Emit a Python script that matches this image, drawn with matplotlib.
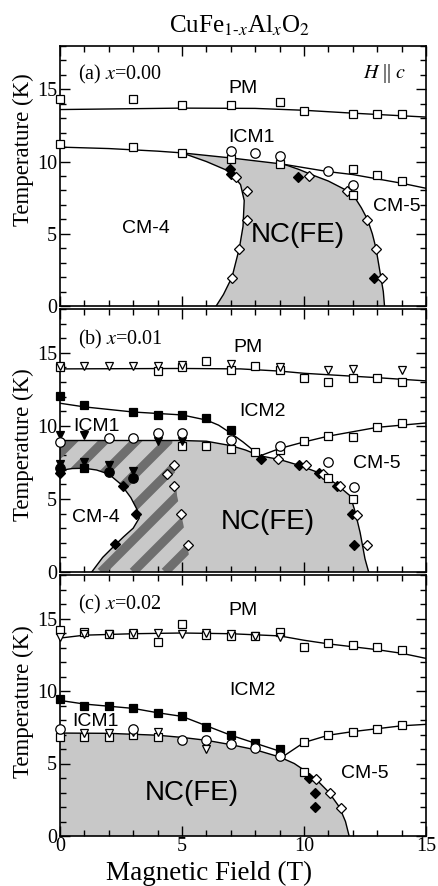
import numpy as np
import matplotlib
matplotlib.use("Agg")
import matplotlib.pyplot as plt
from matplotlib.ticker import MultipleLocator
from matplotlib.patches import Polygon

plt.rcParams['font.family'] = 'Liberation Serif'
plt.rcParams['mathtext.fontset'] = 'stix'

SANS = 'Liberation Sans'
GREY = '#c8c8c8'
DARK = '#6e6e6e'

# ---------------- panel (a) x=0.00 ----------------
a_pm_sq_x = [0, 3, 5, 7, 9, 10, 12, 13, 14]
a_pm_sq_T = [14.3, 14.3, 13.9, 13.9, 14.1, 13.5, 13.3, 13.3, 13.3]
a_lo_sq_x = [0, 3, 5, 7, 9, 12, 13, 14, 12]
a_lo_sq_T = [11.2, 11.0, 10.6, 10.2, 9.8, 9.5, 9.05, 8.65, 7.7]
a_circ_x = [7, 8, 9, 11, 12]
a_circ_T = [10.7, 10.6, 10.4, 9.35, 8.35]
a_fdia_x = [6.95, 7.0, 9.75, 12.85]
a_fdia_T = [9.45, 9.15, 8.95, 1.95]
a_odia_x = [7.2, 7.65, 7.65, 7.35, 7.05, 10.2, 11.75, 12.6, 12.95, 13.2]
a_odia_T = [8.95, 7.95, 5.95, 3.95, 1.95, 9.0, 7.95, 5.95, 3.95, 1.95]

a_pm_line_x = [0, 5, 8, 10, 12, 15]
a_pm_line_T = [13.6, 13.7, 13.68, 13.55, 13.35, 13.08]
a_icm_line_x = [0, 2, 4, 5, 7, 9, 9.2, 11, 12, 13, 14, 15]
a_icm_line_T = [11.0, 10.9, 10.72, 10.6, 10.25, 9.85, 9.8, 9.3, 9.1, 8.8, 8.5, 8.15]
a_ncl_x = [5.0, 6.0, 6.97, 7.4, 7.55, 7.5, 7.35, 7.05, 6.7, 6.4]
a_ncl_T = [10.6, 10.0, 9.3, 8.4, 7.3, 5.5, 4.0, 2.0, 0.8, 0.0]
a_ncr_x = [9.2, 9.8, 10.3, 11.0, 11.75, 12.05, 12.35, 12.6, 12.8, 12.95, 13.05, 13.15, 13.25, 13.3]
a_ncr_T = [9.8, 9.45, 9.1, 8.65, 8.0, 7.6, 6.8, 6.0, 5.0, 4.0, 3.0, 2.0, 1.0, 0.0]

# ---------------- panel (b) x=0.01 ----------------
b_tri_x = [0, 1, 2, 3, 4, 5, 7, 9, 11, 12, 14]
b_tri_T = [14.1, 14.1, 14.1, 14.1, 14.1, 14.15, 14.25, 14.0, 13.8, 13.9, 13.8]
b_pm_sq_x = [0, 4, 5, 6, 7, 8, 9, 10, 11, 12, 13, 14]
b_pm_sq_T = [14.0, 13.77, 14.05, 14.46, 13.84, 14.1, 13.84, 13.27, 13.03, 13.3, 13.3, 13.03]
b_fsq_x = [0, 1, 3, 4, 5, 6, 7, 1]
b_fsq_T = [12.03, 11.4, 10.95, 10.76, 10.76, 10.53, 9.72, 7.1]
b_ftri_x = [0, 1, 4, 5, 0, 1, 2, 3]
b_ftri_T = [9.4, 9.4, 9.0, 9.0, 7.4, 7.52, 7.29, 6.94]
b_fcirc_x = [0, 2, 3]
b_fcirc_T = [7.1, 6.83, 6.41]
b_circ_x = [0, 2, 3, 4, 5, 7, 9, 11, 12.05]
b_circ_T = [8.9, 9.14, 9.17, 9.49, 9.49, 9.03, 8.6, 7.5, 5.8]
b_lo_sq_x = [5, 6, 7, 8, 9, 10, 11, 12, 13, 14, 11, 12]
b_lo_sq_T = [8.6, 8.6, 8.4, 8.2, 8.35, 9.0, 9.3, 9.25, 9.95, 10.2, 6.45, 5.0]
b_fdia_x = [0, 2.57, 3.1, 2.25, 8.22, 9.8, 10.63, 11.34, 11.97, 12.06]
b_fdia_T = [6.75, 5.9, 3.95, 1.9, 7.75, 7.3, 6.75, 5.9, 3.95, 1.85]
b_odia_x = [4.37, 4.68, 4.67, 4.96, 5.26, 8.95, 10.1, 10.77, 11.48, 12.16, 12.6]
b_odia_T = [6.72, 7.29, 5.9, 3.94, 1.85, 7.75, 7.3, 6.7, 5.9, 3.9, 1.85]

b_pm_line_x = [0, 5, 7.4, 9, 10, 13, 15]
b_pm_line_T = [13.9, 13.93, 13.9, 13.75, 13.6, 13.3, 13.08]
b_icm2_line_x = [0, 1, 3, 5, 6, 6.5, 7, 7.5, 8.2]
b_icm2_line_T = [11.55, 11.3, 10.95, 10.75, 10.4, 10.05, 9.5, 8.9, 7.95]
b_cm5_line_x = [8.2, 9, 10, 11, 12, 13, 14, 15]
b_cm5_line_T = [7.95, 8.45, 8.9, 9.3, 9.6, 9.9, 10.05, 10.2]
b_nc_line_x = [0, 5, 6, 7, 7.6, 8.2, 9, 9.8, 10.6, 11.3, 11.9, 12.1, 12.3, 12.5, 12.65]
b_nc_line_T = [9.0, 9.0, 8.95, 8.65, 8.35, 7.95, 7.7, 7.3, 6.8, 6.05, 5.2, 4.1, 2.7, 0.9, 0.0]
b_cm4_line_x = [0, 0.5, 1, 1.5, 2, 2.5, 2.9, 3.15, 3.25, 3.0, 2.6, 2.2, 1.75, 1.3]
b_cm4_line_T = [6.95, 7.08, 7.1, 6.98, 6.7, 6.0, 5.1, 4.3, 3.7, 3.0, 2.4, 1.75, 1.0, 0.0]
b_hatch_edge_x = [4.6, 4.7, 4.8, 5.05, 5.25, 5.4]
b_hatch_edge_T = [9.0, 7.0, 5.2, 3.3, 1.5, 0.0]

# ---------------- panel (c) x=0.02 ----------------
c_pm_sq_x = [0, 1, 2, 3, 4, 5, 6, 7, 8, 9, 10, 11, 12, 13, 14]
c_pm_sq_T = [14.2, 14.1, 13.95, 13.95, 13.4, 14.65, 13.85, 13.8, 13.8, 14.05, 13.05, 13.3, 13.2, 13.05, 12.8]
c_tri_x = [0, 1, 2, 3, 4, 5, 6, 7, 8, 9]
c_tri_T = [13.75, 13.9, 13.95, 14.0, 14.0, 13.9, 14.0, 13.9, 13.8, 13.75]
c_fsq_x = [0, 1, 2, 3, 4, 5, 6, 7, 8, 9]
c_fsq_T = [9.42, 8.97, 8.95, 8.8, 8.45, 8.28, 7.54, 6.97, 6.4, 6.0]
c_circ_x = [0, 3, 5, 6, 7, 8, 9]
c_circ_T = [7.35, 7.35, 6.65, 6.6, 6.35, 6.05, 5.53]
c_lo_sq_x = [0, 1, 2, 3, 4, 10, 10, 11, 12, 13, 14]
c_lo_sq_T = [6.85, 6.85, 6.85, 7.0, 6.85, 4.43, 6.5, 7.0, 7.2, 7.4, 7.65]
c_lo_tri_x = [1, 2, 3, 4, 6]
c_lo_tri_T = [7.07, 7.07, 7.15, 7.15, 6.03]
c_fdia_x = [10.2, 10.45, 10.45]
c_fdia_T = [4.0, 3.0, 2.0]
c_odia_x = [10.5, 11.07, 11.5]
c_odia_T = [3.9, 3.0, 1.95]

c_pm_line_x = [0, 1, 3, 5, 7, 9, 10, 11, 12, 13, 14, 15]
c_pm_line_T = [13.65, 13.85, 13.95, 14.0, 13.95, 13.8, 13.5, 13.25, 13.05, 12.85, 12.6, 12.25]
c_icm2_line_x = [0, 1, 2, 3, 4, 5, 6, 7, 8, 9, 9.2]
c_icm2_line_T = [9.35, 9.1, 8.95, 8.8, 8.5, 8.25, 7.6, 6.95, 6.4, 5.85, 5.55]
c_cm5_line_x = [9.2, 10, 11, 12, 13, 14, 15]
c_cm5_line_T = [5.55, 6.45, 6.95, 7.2, 7.4, 7.6, 7.7]
c_nc_line_x = [0, 2, 4, 5, 6, 7, 8, 9, 9.6, 10, 10.5, 11, 11.45, 11.7, 11.85]
c_nc_line_T = [7.1, 7.08, 6.95, 6.8, 6.6, 6.3, 5.95, 5.45, 5.0, 4.55, 3.9, 3.05, 2.0, 1.0, 0.0]


def pts(ax, x, y, marker, filled, ms):
    ax.plot(x, y, ls='none', marker=marker, ms=ms, mec='k', mew=0.9,
            mfc='k' if filled else 'w', zorder=5, clip_on=False)


def line(ax, x, y):
    ax.plot(x, y, color='k', lw=1.0, zorder=3)


def label(ax, x, y, s, size=14):
    ax.text(x, y, s, family=SANS, fontsize=size, ha='center', va='center', zorder=6)


def setup(ax, bottom_labels):
    ax.set_xlim(0, 15)
    ax.set_ylim(0, 18)
    ax.xaxis.set_major_locator(MultipleLocator(5))
    ax.xaxis.set_minor_locator(MultipleLocator(1))
    ax.yaxis.set_major_locator(MultipleLocator(5))
    ax.yaxis.set_minor_locator(MultipleLocator(1))
    ax.tick_params(which='both', direction='in', top=True, right=True, width=1.0)
    ax.tick_params(which='major', length=7, labelsize=14.5, pad=2)
    ax.tick_params(which='minor', length=4)
    ax.tick_params(axis='x', labelbottom=bottom_labels, pad=1)
    for s in ax.spines.values():
        s.set_linewidth(1.2)


W, H = 438, 886
fig = plt.figure(figsize=(W / 100, H / 100), dpi=100)
L, R = 60, 426
ax_a = fig.add_axes([L / W, 1 - 306 / H, (R - L) / W, 260 / H])
ax_b = fig.add_axes([L / W, 1 - 572 / H, (R - L) / W, 263 / H])
ax_c = fig.add_axes([L / W, 1 - 836 / H, (R - L) / W, 261 / H])

# ---- (a) ----
ax = ax_a
setup(ax, False)
poly_x = a_ncl_x[::-1] + [x for x in a_icm_line_x if 5 < x < 9.2] + a_ncr_x
poly_T = a_ncl_T[::-1] + [t for x, t in zip(a_icm_line_x, a_icm_line_T) if 5 < x < 9.2] + a_ncr_T
ax.fill(poly_x, poly_T, color=GREY, lw=0, zorder=1)
line(ax, a_pm_line_x, a_pm_line_T)
line(ax, a_icm_line_x, a_icm_line_T)
line(ax, a_ncl_x, a_ncl_T)
line(ax, a_ncr_x, a_ncr_T)
pts(ax, a_fdia_x, a_fdia_T, 'D', True, 4.8)
pts(ax, a_odia_x, a_odia_T, 'D', False, 4.8)
pts(ax, a_pm_sq_x, a_pm_sq_T, 's', False, 5.5)
pts(ax, a_lo_sq_x, a_lo_sq_T, 's', False, 5.5)
pts(ax, a_circ_x, a_circ_T, 'o', False, 6.8)
label(ax, 7.5, 15.05, 'PM')
label(ax, 7.85, 11.7, 'ICM1')
label(ax, 3.5, 5.35, 'CM-4')
label(ax, 9.75, 4.9, 'NC(FE)', 20)
label(ax, 13.8, 6.9, 'CM-5')
ax.text(0.05, 0.872, r'(a) $x$=0.00', transform=ax.transAxes, fontsize=14.5)
ax.text(0.947, 0.878, r'$H$ || $c$', transform=ax.transAxes, fontsize=14.5, ha='right')

# ---- (b) ----
ax = ax_b
setup(ax, False)
nc_x = b_cm4_line_x + b_nc_line_x[::-1]
nc_T = b_cm4_line_T + b_nc_line_T[::-1]
ax.fill(nc_x, nc_T, color=GREY, lw=0, zorder=1)
hx = b_cm4_line_x[::-1] + [0] + b_hatch_edge_x
hT = b_cm4_line_T[::-1] + [9.0] + b_hatch_edge_T
hatch = Polygon(np.column_stack([hx, hT]), closed=True, facecolor='none', edgecolor='none')
ax.add_patch(hatch)
# stripes at 45 deg on screen: T per T-field unit
slope = ((R - L) / 15) / (263 / 18)
for x0 in np.arange(-4.87 - 2 * 1.31, 6.5, 1.31):
    st, = ax.plot([x0, x0 + 18 / slope], [0, 18], color=DARK, lw=6.5,
                  solid_capstyle='butt', zorder=2)
    st.set_clip_path(hatch)
line(ax, b_pm_line_x, b_pm_line_T)
line(ax, b_icm2_line_x, b_icm2_line_T)
line(ax, b_cm5_line_x, b_cm5_line_T)
line(ax, b_nc_line_x, b_nc_line_T)
line(ax, b_cm4_line_x, b_cm4_line_T)
pts(ax, b_fdia_x, b_fdia_T, 'D', True, 4.8)
pts(ax, b_odia_x, b_odia_T, 'D', False, 4.8)
pts(ax, b_fsq_x, b_fsq_T, 's', True, 5.5)
pts(ax, b_lo_sq_x, b_lo_sq_T, 's', False, 5.5)
pts(ax, b_pm_sq_x, b_pm_sq_T, 's', False, 5.5)
pts(ax, b_tri_x, b_tri_T, 'v', False, 6.0)
pts(ax, b_ftri_x, b_ftri_T, 'v', True, 6.0)
pts(ax, b_fcirc_x, b_fcirc_T, 'o', True, 6.8)
pts(ax, b_circ_x, b_circ_T, 'o', False, 6.8)
label(ax, 7.7, 15.35, 'PM')
label(ax, 8.3, 11.0, 'ICM2')
label(ax, 1.5, 9.95, 'ICM1')
label(ax, 1.45, 3.7, 'CM-4')
label(ax, 8.5, 3.45, 'NC(FE)', 20)
label(ax, 13.0, 7.4, 'CM-5')
ax.text(0.05, 0.865, r'(b) $x$=0.01', transform=ax.transAxes, fontsize=14.5)

# ---- (c) ----
ax = ax_c
setup(ax, True)
ax.fill(c_nc_line_x + [0], c_nc_line_T + [0], color=GREY, lw=0, zorder=1)
line(ax, c_pm_line_x, c_pm_line_T)
line(ax, c_icm2_line_x, c_icm2_line_T)
line(ax, c_cm5_line_x, c_cm5_line_T)
line(ax, c_nc_line_x, c_nc_line_T)
pts(ax, c_fdia_x, c_fdia_T, 'D', True, 4.8)
pts(ax, c_odia_x, c_odia_T, 'D', False, 4.8)
pts(ax, c_fsq_x, c_fsq_T, 's', True, 5.5)
pts(ax, c_pm_sq_x, c_pm_sq_T, 's', False, 5.5)
pts(ax, c_lo_sq_x, c_lo_sq_T, 's', False, 5.5)
pts(ax, c_tri_x, c_tri_T, 'v', False, 6.0)
pts(ax, c_lo_tri_x, c_lo_tri_T, 'v', False, 6.0)
pts(ax, c_circ_x, c_circ_T, 'o', False, 6.8)
label(ax, 7.5, 15.55, 'PM')
label(ax, 7.9, 10.05, 'ICM2')
label(ax, 1.45, 7.9, 'ICM1')
label(ax, 5.4, 2.95, 'NC(FE)', 20)
label(ax, 12.5, 4.3, 'CM-5')
ax.text(0.05, 0.868, r'(c) $x$=0.02', transform=ax.transAxes, fontsize=14.5)

# labels
fig.text(240 / W, 1 - 33 / H, r'CuFe$_{1\text{-}x}$Al$_{x}$O$_{2}$', fontsize=18,
         ha='center', va='baseline')
for yc in (150, 445, 702):
    fig.text(23 / W, 1 - yc / H, 'Temperature (K)', rotation=90, fontsize=16.5,
             ha='center', va='center')
fig.text(209 / W, 1 - 861 / H, 'Magnetic Field (T)', fontsize=19.5, ha='center', va='top')

fig.savefig('out.png', dpi=100)
